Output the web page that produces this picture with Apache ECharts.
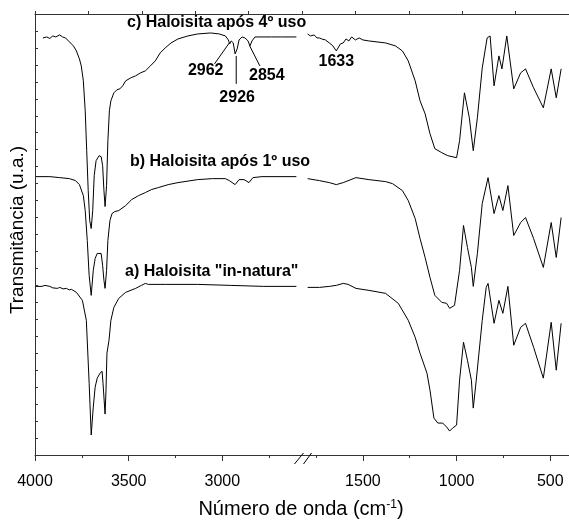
<!DOCTYPE html>
<html>
<head>
<meta charset="utf-8">
<script src="https://cdn.jsdelivr.net/npm/echarts@6/dist/echarts.min.js"></script>
<style>
html,body{margin:0;padding:0;background:#fff;}
#chart{width:569px;height:521px;}
</style>
</head>
<body>
<div id="chart"></div>
<script>
// ---- data: [wavenumber (cm-1), transmittance (arbitrary units)] ----
const cLeft = [[3958,418],[3937,419],[3921,417.5],[3905,420],[3889,419],[3868,421],[3853,419],[3837,418],[3816,414],[3795,410],[3779,405],[3763,397],[3753,390],[3742,375],[3732,345],[3724,305],[3716,265],[3708,235],[3700,227],[3692,245],[3684,280],[3674,295],[3658,300],[3647,299],[3639,290],[3632,265],[3626,249],[3618,270],[3611,315],[3603,345],[3595,355],[3579,363],[3563,366],[3547,367],[3532,370],[3516,375],[3489,378],[3463,380],[3437,383],[3411,385],[3384,390],[3358,395],[3332,403],[3305,408],[3274,413],[3237,417],[3184,420],[3132,422],[3063,423],[3016,422],[2984,420],[2968,416],[2961,412],[2953,415],[2942,413],[2932,402],[2921,407],[2911,416],[2895,419],[2879,418],[2863,415],[2853,410],[2842,415],[2826,419],[2789,419],[2737,419],[2684,419],[2605,419]];
const cRight = [[1795,422],[1780,420],[1760,421],[1745,418],[1732,418],[1720,417],[1700,416],[1679,413],[1660,410],[1642,405],[1620,412],[1605,413],[1590,417],[1575,415],[1560,419],[1540,416],[1520,418],[1500,416],[1468,415],[1379,413],[1326,410],[1289,405],[1258,395],[1221,375],[1195,355],[1168,342],[1142,322],[1116,307],[1079,303],[1047,300],[1000,298],[984,315],[958,363],[932,338],[911,305],[889,338],[863,388],[837,418],[821,420],[800,370],[774,400],[758,387],[732,420],[695,367],[658,383],[632,387],[589,368],[537,348],[495,387],[468,358],[442,387]];
const bLeft = [[3995,279],[3921,279],[3868,278],[3816,277],[3784,275],[3763,271],[3742,260],[3732,245],[3721,215],[3711,180],[3700,160],[3689,185],[3679,197],[3668,202],[3658,203],[3647,202],[3639,190],[3632,175],[3626,167],[3618,185],[3611,215],[3600,235],[3589,242],[3574,244],[3553,245],[3516,250],[3484,256],[3447,260],[3411,263],[3379,266],[3342,268],[3289,271],[3237,273],[3132,276],[3053,277],[2984,277],[2963,275],[2953,276],[2932,271],[2911,276],[2884,276],[2858,273],[2837,278],[2789,279],[2605,279]];
const bRight = [[1795,277],[1732,275],[1679,273],[1642,271],[1605,273],[1537,278],[1468,276],[1379,274],[1342,272],[1289,265],[1258,255],[1221,237],[1195,217],[1168,198],[1142,178],[1116,160],[1079,153],[1053,152],[1037,147],[1011,150],[984,185],[963,230],[942,208],[921,188],[911,169],[889,202],[863,252],[832,278],[800,242],[774,260],[753,245],[726,270],[695,220],[658,233],[632,238],[589,217],[537,188],[495,233],[468,198],[442,238]];
const aLeft = [[3995,169],[3963,169],[3947,170],[3937,168],[3921,169],[3905,167.5],[3895,169],[3880,167],[3868,168],[3850,166.5],[3832,167],[3818,165.5],[3805,166],[3779,163],[3747,155],[3726,135],[3711,72],[3700,20],[3689,48],[3679,68],[3668,77],[3653,82],[3642,84],[3637,72],[3626,41],[3621,65],[3616,102],[3605,115],[3595,135],[3579,148],[3553,157],[3516,163],[3463,167],[3432,170],[3411,172],[3395,171],[3305,171],[3132,171],[2958,170],[2779,169],[2605,169]];
const aRight = [[1795,168],[1732,168],[1679,169],[1642,170],[1605,172],[1579,171],[1537,167],[1468,165],[1379,162],[1311,152],[1258,135],[1221,118],[1195,102],[1158,82],[1142,65],[1121,37],[1100,32],[1074,32],[1053,28],[1037,24],[1021,27],[1000,30],[984,75],[963,113],[942,95],[921,75],[911,47],[895,75],[863,135],[842,168],[832,172],[800,132],[774,155],[753,142],[726,169],[695,110],[658,128],[632,132],[589,108],[537,77],[495,133],[468,85],[442,132]];

const majorTicks = [4000,3500,3000,1500,1000,500];
const minorTicks = [3750,3250,2750,1750,1250,750];

const spectrumLabels = ['c) Haloisita após 4º uso','b) Haloisita após 1º uso','a) Haloisita "in-natura"'];
const peakLabels = [['2962',3089,385],['2926',2921,358],['2854',2763,380],['1633',1642,394]];
const leaderLines = [[[3042,392],[2963,413]],[[2926,372],[2926,400]],[[2854,410],[2800,390]]];

// ---- broken axis mapping ----
const SHIFT = 750; // cm-1 removed by the axis break
function toU(w){ return w > 2200 ? 4000 - w : 4000 - w - SHIFT; }
function fromU(u){ return u < 1400 ? 4000 - u : 4000 - u - SHIFT; }
function conv(arr){ return arr.map(p => [toU(p[0]), p[1]]); }

const FONT = 'Liberation Sans, Arial, sans-serif';
const chart = echarts.init(document.getElementById('chart'), null, {renderer:'canvas'});

function lineSeries(data){
  return {type:'line', data:conv(data), showSymbol:false, symbol:'none', animation:false,
    lineStyle:{color:'#000', width:1}, xAxisIndex:0, yAxisIndex:0, z:3};
}

const series = [cLeft,cRight,bLeft,bRight,aLeft,aRight].map(lineSeries);
leaderLines.forEach(l => series.push({type:'line', data:conv(l), showSymbol:false, symbol:'none',
  animation:false, lineStyle:{color:'#000', width:1}}));
series.push({type:'scatter', symbolSize:0, animation:false, itemStyle:{opacity:1, color:'#000'},
  data: peakLabels.map(p => ({name:p[0], value:[toU(p[1]), p[2]]})),
  label:{show:true, position:'inside', formatter:'{b}', color:'#000', opacity:1, textBorderWidth:0,
    fontFamily:FONT, fontWeight:'bold', fontSize:16}});

const axisLineStyle = {color:'#333', width:1};
chart.setOption({
  animation:false,
  grid:{left:35, top:14, width:541.5, height:441},
  xAxis:[
    {type:'value', min:0, max:2850, position:'bottom',
     axisLine:{show:true, lineStyle:axisLineStyle},
     axisTick:{show:true, inside:false, length:6, lineStyle:axisLineStyle, customValues:majorTicks.map(toU)},
     axisLabel:{show:true, margin:19, fontSize:16, color:'#000', fontFamily:FONT,
       customValues:majorTicks.map(toU), formatter: v => String(Math.round(fromU(v)))},
     splitLine:{show:false}},
    {type:'value', min:0, max:2850, position:'bottom',
     axisLine:{show:false},
     axisTick:{show:true, inside:false, length:3, lineStyle:axisLineStyle, customValues:minorTicks.map(toU)},
     axisLabel:{show:false}, splitLine:{show:false}},
    {type:'value', min:0, max:2850, interval:285, position:'top',
     axisLine:{show:true, lineStyle:axisLineStyle},
     axisTick:{show:true, inside:false, length:3, lineStyle:axisLineStyle},
     axisLabel:{show:false}, splitLine:{show:false}}
  ],
  yAxis:[
    {type:'value', min:0, max:442, interval:17, position:'left',
     axisLine:{show:true, lineStyle:axisLineStyle},
     axisTick:{show:true, inside:true, length:3, lineStyle:axisLineStyle},
     axisLabel:{show:false}, splitLine:{show:false}}
  ],
  series: series
});

// decorations: titles, spectrum labels, break marks
const brk = chart.convertToPixel({xAxisIndex:0}, toU(2600));
const brkR = chart.convertToPixel({xAxisIndex:0}, toU(1800));
const bx = (brk + brkR) / 2 + 1;
const by = chart.convertToPixel({yAxisIndex:0}, 0);
chart.setOption({
  graphic:[
    {type:'text', left:127, top:15, style:{text:spectrumLabels[0], font:'bold 16px '+FONT, fill:'#000'}},
    {type:'text', left:130, top:154, style:{text:spectrumLabels[1], font:'bold 16px '+FONT, fill:'#000'}},
    {type:'text', left:125, top:264, style:{text:spectrumLabels[2], font:'bold 16px '+FONT, fill:'#000'}},
    {type:'text', x:18, y:230, rotation:Math.PI/2,
     style:{text:'Transmitância (u.a.)', font:'19px '+FONT, fill:'#000', align:'center', verticalAlign:'middle'}},
    {type:'text', x:301, y:509,
     style:{text:'Número de onda (cm{sup|-1})', font:'20px '+FONT, fill:'#000', align:'center', verticalAlign:'middle',
       rich:{sup:{fontSize:12, verticalAlign:'top', padding:[0,0,9,0], fontFamily:FONT}}}},
    {type:'line', shape:{x1:bx-8.5, y1:by+9, x2:bx+0.5, y2:by-2}, style:{stroke:'#000', lineWidth:1}, z:51},
    {type:'line', shape:{x1:bx+0.5, y1:by+9, x2:bx+8.5, y2:by-2}, style:{stroke:'#000', lineWidth:1}, z:51}
  ]
});
</script>
</body>
</html>
